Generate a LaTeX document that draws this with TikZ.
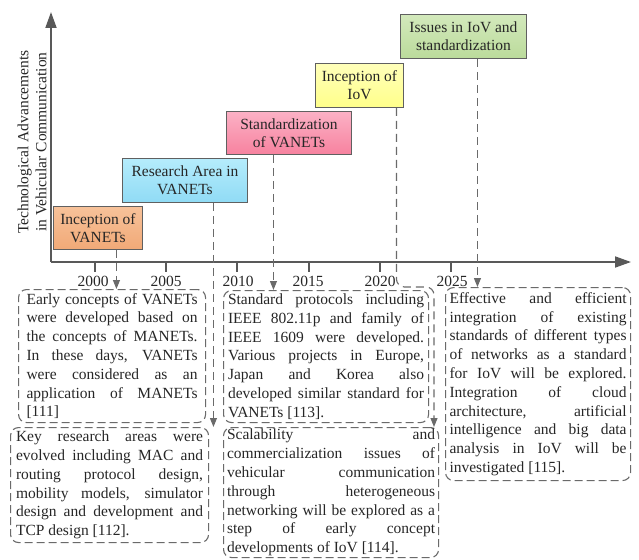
\documentclass[tikz,border=0pt]{standalone}
\usepackage{fontspec}
\setmainfont{Liberation Serif}
\usepackage{tikz}
\usetikzlibrary{arrows.meta}
\usetikzlibrary{positioning}
\usepackage{xcolor}
\definecolor{axisgray}{HTML}{595959}
\definecolor{boxgray}{HTML}{606060}
\definecolor{dashgray}{HTML}{6A6A6A}
\definecolor{orangetop}{HTML}{F7C29A}
\definecolor{orangebot}{HTML}{F1A977}
\definecolor{bluetop}{HTML}{B5ECFC}
\definecolor{bluebot}{HTML}{90DBF5}
\definecolor{pinktop}{HTML}{FBB1C5}
\definecolor{pinkbot}{HTML}{F7829F}
\definecolor{yellowtop}{HTML}{FFFFBA}
\definecolor{yellowbot}{HTML}{FFFF8A}
\definecolor{greentop}{HTML}{D3E9BC}
\definecolor{greenbot}{HTML}{BBDB9B}
\newcommand{\jl}[1]{\makebox[\hsize][s]{#1}\\}

\begin{document}
\begin{tikzpicture}[x=1pt,y=-1pt]
  \tikzset{
    stage/.style={
      draw=boxgray,
      rectangle,
      anchor=north west,
      align=center,
      inner sep=0pt,
      line width=0.9pt,
      text=black!85,
      font=\fontsize{15.5}{18}\selectfont
    },
    note/.style={
      draw=dashgray,
      rectangle,
      rounded corners=8pt,
      dash pattern=on 8pt off 4pt,
      anchor=north west,
      align=justify,
      inner ysep=0pt,
      line width=1.1pt,
      text=black!85,
      font=\fontsize{15.5}{18.8}\selectfont
    },
    link/.style={
      draw=dashgray,
      line width=1.1pt,
      dash pattern=on 8pt off 5pt,
      -{Triangle[length=9pt, width=7pt]}
    },
    axisline/.style={
      draw=axisgray,
      line width=1.8pt,
      -{Triangle[length=16pt, width=11pt]}
    },
    yeartick/.style={
      draw=axisgray,
      line width=1.8pt
    },
    year/.style={
      text=black!85,
      font=\fontsize{15.5}{18}\selectfont
    }
  }
  \useasboundingbox (0,0) rectangle (639,559);

  % Axes
  \coordinate (o) at (51,262);
  \coordinate (ytop) at (51,12);
  \coordinate (xend) at (631,262);
  \draw[axisline] (o) -- (ytop);
  \draw[axisline] (o) -- (xend);
  \node[rotate=90, align=center, text=black!85, font=\fontsize{15.5}{18}\selectfont] (ylab) at (32,142)
    {Technological Advancements\\in Vehicular Communication};

  % Years
  \draw[yeartick] (95,262) -- ++(0,10);
  \draw[yeartick] (166,262) -- ++(0,10);
  \draw[yeartick] (237,262) -- ++(0,10);
  \draw[yeartick] (309,262) -- ++(0,10);
  \draw[yeartick] (380,262) -- ++(0,10);
  \draw[yeartick] (451,262) -- ++(0,10);
  \node[year] (y2000) at (93,281) {2000};
  \node[year] (y2005) at (166,281) {2005};
  \node[year] (y2010) at (238,281) {2010};
  \node[year] (y2015) at (308,281) {2015};
  \node[year] (y2020) at (380,281) {2020};
  \node[year] (y2025) at (452,281) {2025};

  % Stages
  \node[stage, top color=orangetop, bottom color=orangebot, minimum width=89pt, minimum height=43pt] (s1) at (53,206) {Inception of\\VANETs};
  \node[stage, top color=bluetop, bottom color=bluebot, minimum width=125pt, minimum height=44pt] (s2) at (122,158) {Research Area in\\VANETs};
  \node[stage, top color=pinktop, bottom color=pinkbot, minimum width=125pt, minimum height=43pt] (s3) at (226,111) {Standardization\\of VANETs};
  \node[stage, top color=yellowtop, bottom color=yellowbot, minimum width=88pt, minimum height=44pt] (s4) at (315,63) {Inception of\\IoV};
  \node[stage, top color=greentop, bottom color=greenbot, minimum width=126pt, minimum height=44pt] (s5) at (400,14) {Issues in IoV and\\standardization};

  % Notes
  \node[note, text width=171pt, inner xsep=8pt, minimum height=133pt] (nA) at (18,289) {%
    \jl{Early concepts of VANETs}
    \jl{were developed based on}
    \jl{the concepts of MANETs.}
    \jl{In these days, VANETs}
    \jl{were considered as an}
    \jl{application of MANETs}
    {[111]}};
  \node[note, text width=187pt, inner xsep=5.5pt, minimum height=115pt] (nB) at (10,427) {%
    \jl{Key research areas were}
    \jl{evolved including MAC and}
    \jl{routing protocol design,}
    \jl{mobility models, simulator}
    \jl{design and development and}
    TCP design [112].};
  \node[note, text width=196pt, inner xsep=4.5pt, minimum height=132pt] (nC) at (223,290) {%
    \jl{Standard protocols including}
    \jl{IEEE 802.11p and family of}
    \jl{IEEE 1609 were developed.}
    \jl{Various projects in Europe,}
    \jl{Japan and Korea also}
    \jl{developed similar standard for}
    VANETs [113].};
  \node[note, text width=208pt, inner xsep=3.5pt, minimum height=130pt] (nD) at (223,427) {%
    \jl{Scalability and}
    \jl{commercialization issues of}
    \jl{vehicular communication}
    \jl{through heterogeneous}
    \jl{networking will be explored as a}
    \jl{step of early concept}
    developments of IoV [114].};
  \node[note, text width=177pt, inner xsep=4pt, minimum height=193pt] (nE) at (445,287) {%
    \jl{Effective and efficient}
    \jl{integration of existing}
    \jl{standards of different types}
    \jl{of networks as a standard}
    \jl{for IoV will be explored.}
    \jl{Integration of cloud}
    \jl{architecture, artificial}
    \jl{intelligence and big data}
    \jl{analysis in IoV will be}
    investigated [115].};

  % Links
  \coordinate (bend4) at (434,287);
  \draw[link] ([xshift=18.5pt]s1.south) -- ([xshift=18.5pt]s1.south |- nA.north);
  \draw[link] ([xshift=28.5pt]s2.south) -- ([xshift=28.5pt]s2.south |- nB.north);
  \draw[link] ([xshift=-15.5pt]s3.south) -- ([xshift=-15.5pt]s3.south |- nC.north);
  \draw[link, rounded corners=8pt] ([xshift=37pt]s4.south) |- (bend4) -- (bend4 |- nD.north);
  \draw[link] ([xshift=14pt]s5.south) -- ([xshift=14pt]s5.south |- nE.north);
\end{tikzpicture}
\end{document}
